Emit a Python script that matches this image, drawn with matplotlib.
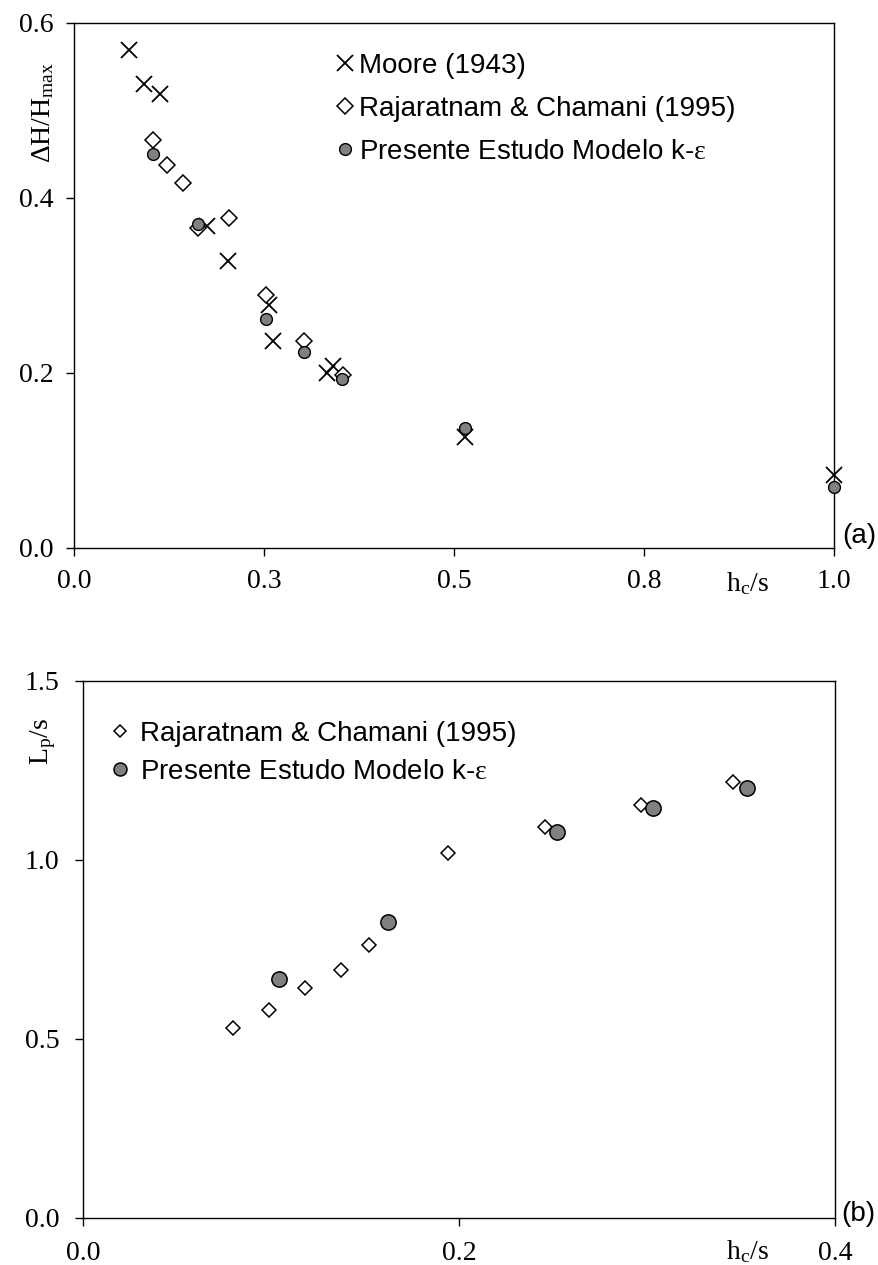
import matplotlib.pyplot as plt

plt.rcParams['font.family'] = 'Liberation Serif'
plt.rcParams['mathtext.fontset'] = 'custom'
plt.rcParams['mathtext.rm'] = 'Liberation Serif'
plt.rcParams['mathtext.it'] = 'Liberation Serif:italic'

# (a) relative head loss vs hc/s
moore_x = [0.072, 0.092, 0.113, 0.175, 0.203, 0.256, 0.262, 0.341, 0.333, 0.514, 1.0]
moore_y = [0.569, 0.530, 0.519, 0.368, 0.328, 0.278, 0.237, 0.208, 0.200, 0.127, 0.083]

raj_a_x = [0.104, 0.122, 0.144, 0.163, 0.204, 0.253, 0.303, 0.354]
raj_a_y = [0.466, 0.438, 0.417, 0.366, 0.377, 0.289, 0.236, 0.198]

ke_a_x = [0.104, 0.163, 0.253, 0.303, 0.353, 0.514, 1.0]
ke_a_y = [0.450, 0.370, 0.262, 0.224, 0.193, 0.137, 0.070]

# (b) pool length vs hc/s
raj_b_x = [0.080, 0.099, 0.118, 0.137, 0.152, 0.194, 0.246, 0.297, 0.346]
raj_b_y = [0.530, 0.580, 0.642, 0.691, 0.762, 1.019, 1.092, 1.153, 1.218]

ke_b_x = [0.104, 0.162, 0.252, 0.303, 0.353]
ke_b_y = [0.666, 0.825, 1.076, 1.145, 1.199]

xticks_a = [0.0, 0.25, 0.5, 0.75, 1.0]
xticklabels_a = ['0.0', '0.3', '0.5', '0.8', '1.0']
yticks_a = [0.0, 0.2, 0.4, 0.6]
xticks_b = [0.0, 0.2, 0.4]
yticks_b = [0.0, 0.5, 1.0, 1.5]

lab_moore = 'Moore (1943)'
lab_raj = 'Rajaratnam & Chamani (1995)'
lab_ke = r'Presente Estudo Modelo k-$\mathrm{ε}$'

grey = '#808080'
sans = 'Liberation Sans'

fig = plt.figure(figsize=(8.79, 12.65), dpi=100)

# ---- panel (a)
ax1 = fig.add_axes([74/879, 1-548/1265, 760/879, 525/1265])
ax1.plot(moore_x, moore_y, 'x', color='black', ms=11, mew=1.3, ls='none',
         clip_on=False, label=lab_moore, zorder=3)
ax1.plot(raj_a_x, raj_a_y, 'D', mfc='white', mec='black', ms=8.5, mew=1.1,
         ls='none', clip_on=False, label=lab_raj, zorder=4)
ax1.plot(ke_a_x, ke_a_y, 'o', mfc=grey, mec='black', ms=8.5, mew=1.0,
         ls='none', clip_on=False, label=lab_ke, zorder=5)
ax1.set_xlim(0, 1.0)
ax1.set_ylim(0, 0.6)
ax1.set_xticks(xticks_a)
ax1.set_xticklabels(xticklabels_a)
ax1.set_yticks(yticks_a)
ax1.yaxis.set_major_formatter(plt.FormatStrFormatter('%.1f'))
ax1.tick_params(direction='out', length=6, width=1, labelsize=20, pad=9)
ax1.text(-0.041, 0.83, r'ΔH/H$_\mathrm{max}$', rotation=90, fontsize=20,
         ha='center', va='center', transform=ax1.transAxes)
ax1.text(0.8855, -0.067, r'h$_\mathrm{c}$/s', fontsize=20,
         ha='center', va='center', transform=ax1.transAxes)
leg1 = ax1.legend(loc='upper left', bbox_to_anchor=(0.3845, 0.958),
                  bbox_transform=fig.transFigure, frameon=False,
                  prop={'family': sans, 'size': 20}, handlelength=0.5,
                  handletextpad=0.25, labelspacing=0.61, borderpad=0,
                  borderaxespad=0)
fig.text(0.9778, 0.5763, '(a)', family=sans, fontsize=20, ha='center', va='center')

# ---- panel (b)
ax2 = fig.add_axes([83/879, 1-1217.5/1265, 752/879, 536.8/1265])
ax2.plot(raj_b_x, raj_b_y, 'D', mfc='white', mec='black', ms=6.8, mew=1.1,
         ls='none', clip_on=False, label=lab_raj, zorder=4)
ax2.plot(ke_b_x, ke_b_y, 'o', mfc=grey, mec='black', ms=11, mew=1.1,
         ls='none', clip_on=False, label=lab_ke, zorder=5)
ax2.set_xlim(0, 0.4)
ax2.set_ylim(0, 1.5)
ax2.set_xticks(xticks_b)
ax2.set_yticks(yticks_b)
ax2.xaxis.set_major_formatter(plt.FormatStrFormatter('%.1f'))
ax2.yaxis.set_major_formatter(plt.FormatStrFormatter('%.1f'))
ax2.tick_params(direction='out', length=6, width=1, labelsize=20, pad=11)
ax2.text(-0.053, 0.886, r'L$_\mathrm{p}$/s', rotation=90, fontsize=20,
         ha='center', va='center', transform=ax2.transAxes)
ax2.text(0.884, -0.064, r'h$_\mathrm{c}$/s', fontsize=20,
         ha='center', va='center', transform=ax2.transAxes)
leg2 = ax2.legend(loc='upper left', bbox_to_anchor=(0.1247, 0.430),
                  bbox_transform=fig.transFigure, frameon=False,
                  prop={'family': sans, 'size': 20}, handlelength=0.75,
                  handletextpad=0.35, labelspacing=0.43, borderpad=0,
                  borderaxespad=0, markerscale=0.85)
fig.text(0.9761, 0.0403, '(b)', family=sans, fontsize=20, ha='center', va='center')

for ax in (ax1, ax2):
    for s in ax.spines.values():
        s.set_linewidth(1.0)

fig.savefig('out.png', dpi=100)
